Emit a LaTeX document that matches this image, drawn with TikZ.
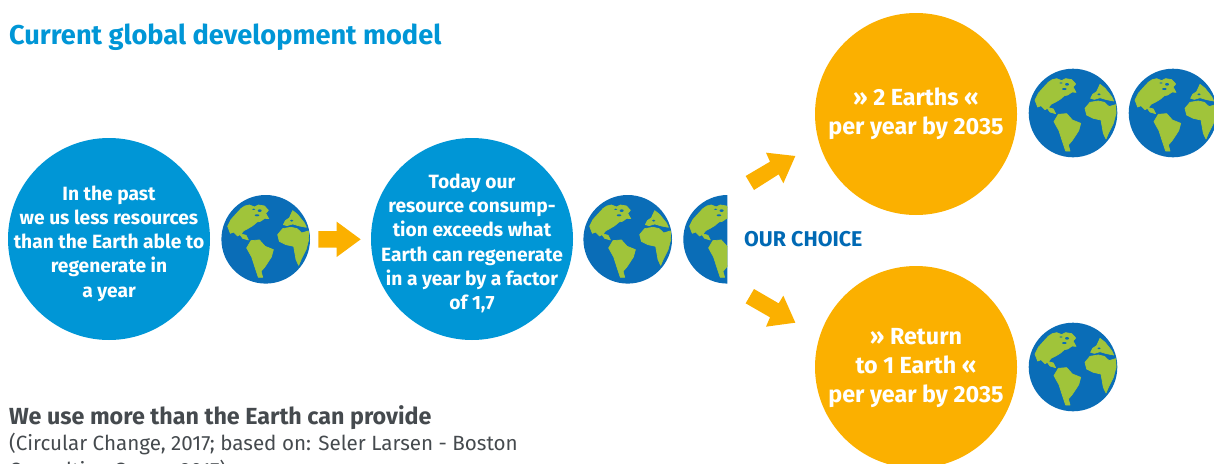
\documentclass[tikz,border=0pt]{standalone}
\usepackage{fontspec}
\setmainfont{Fira Sans}
\definecolor{cblue}{HTML}{0096D6}
\definecolor{corange}{HTML}{FBB000}
\definecolor{gblue}{HTML}{0A6DB7}
\definecolor{ggreen}{HTML}{A0C43A}
\definecolor{choice}{HTML}{0069B4}
\definecolor{gtext}{HTML}{454A4E}
\tikzset{
  x=1pt,y=-1pt,
  bigcircle/.style={circle,minimum size=202pt,inner sep=0pt},
  bluecircle/.style={bigcircle,fill=cblue},
  orangecircle/.style={bigcircle,fill=corange},
  bluetext/.style={text=white,align=center,inner sep=0pt,font=\fontsize{19.2}{24.2}\selectfont\bfseries},
  orangetext/.style={text=white,align=center,inner sep=0pt,font=\fontsize{23.3}{29}\selectfont\bfseries},
  blockarrow/.style={fill=corange,draw=none},
  land/.style={fill=ggreen,draw=ggreen,line width=0.7pt,line join=round},
  globe/.pic={
    \fill[gblue] (0,0) circle (44.3);
    \begin{scope}[scale=1/3,shift={(-144,-144)}]
      % North America and Greenland
      \filldraw[land] (82,44)--(95,41)--(110,47)--(122,41)--(140,44)--(152,57)--(144,66)--(153,82)--(141,81)--(128,90)--(118,92)--(105,103)--(90,112)--(78,118)--(70,128)--(85,132)--(92,146)--(75,141)--(67,130)--(60,134)--(48,122)--(38,126)--(30,105)--(40,85)--(58,65)--(70,52)--cycle;
      \fill[gblue] (126,58) ellipse (6 and 4);
      \fill[gblue] (108,54) ellipse (5 and 2);
      \fill[gblue] (118,72) ellipse (7 and 3);
      % South America
      \filldraw[land] (87,170)--(100,148)--(125,146)--(142,165)--(167,175)--(161,197)--(142,226)--(130,240)--(135,258)--(122,258)--(110,222)--(102,197)--cycle;
      % Africa
      \filldraw[land] (180,130)--(195,112)--(220,108)--(238,112)--(252,125)--(272,119)--(273,145)--(265,175)--(250,205)--(243,222)--(235,205)--(228,165)--(205,160)--(185,150)--cycle;
      % Europe
      \filldraw[land] (197,100)--(203,88)--(215,80)--(225,58)--(240,70)--(260,95)--(266,108)--(245,104)--(225,98)--(208,103)--cycle;
      \fill[gblue] (222,88) ellipse (5 and 3);
    \end{scope}
  }
}
\begin{document}
\begin{tikzpicture}
\useasboundingbox (0,0) rectangle (1214,463);
\clip (0,0) rectangle (1214,463);
\node[anchor=base west,inner sep=0pt,text=cblue,font=\fontsize{27.2}{30}\selectfont\bfseries] (title) at (9,44) {Current global development model};

\node[bluecircle] (past) at (109,239) {};
\node[bluecircle] (today) at (472,239) {};
\node[orangecircle] (two) at (916,114) {};
\node[orangecircle] (one) at (916,367) {};
\node[bluetext] (pasttext) at (109,243.5) {In the past\\we us less resources\\than the Earth able to\\regenerate in\\a year};
\node[bluetext] (todaytext) at (472,243.5) {Today our\\resource consump-\\tion exceeds what\\Earth can regenerate\\in a year by a factor\\of 1,7};
\node[orangetext] (twotext) at (916,114) {» 2 Earths «\\per year by 2035};
\node[orangetext] (onetext) at (916,368.5) {» Return\\to 1 Earth «\\per year by 2035};

\pic (g1) at (265.7,239.3) {globe};
\pic (g2) at (627.7,239.3) {globe};
\begin{scope}
  \clip (680,190) rectangle (727.4,290);
  \pic (g3) at (727.6,239.3) {globe};
\end{scope}
\pic (g4) at (1073,113) {globe};
\pic (g5) at (1173,113) {globe};
\pic (g6) at (1073,367) {globe};

\begin{scope}[shift={(210,185)},scale=1/3]
  \fill[blockarrow] (325,138)--(380,138)--(380,110)--(452,163)--(380,216)--(380,188)--(325,188)--cycle;
\end{scope}
\begin{scope}[shift={(570,140)},scale=1/3]
  \fill[blockarrow] (527,108)--(600,65)--(588,38)--(676,48)--(640,130)--(626,103)--(552,150)--cycle;
  \fill[blockarrow] (552,447)--(626,490)--(640,467)--(676,548)--(588,560)--(600,532)--(527,490)--cycle;
\end{scope}

\node[anchor=base west,inner sep=0pt,text=choice,font=\fontsize{21.4}{24}\selectfont\bfseries] (choice) at (744,246) {OUR CHOICE};
\node[anchor=base west,inner sep=0pt,text=gtext,font=\fontsize{23.3}{26}\selectfont\bfseries] (caption) at (9,424) {We use more than the Earth can provide};
\node[anchor=north west,inner sep=0pt,text=gtext,align=left,font=\fontsize{20.6}{27}\selectfont] (source) at (9,433) {(Circular Change, 2017; based on: Seler Larsen - Boston\\Consulting Group, 2017)};
\end{tikzpicture}
\end{document}
